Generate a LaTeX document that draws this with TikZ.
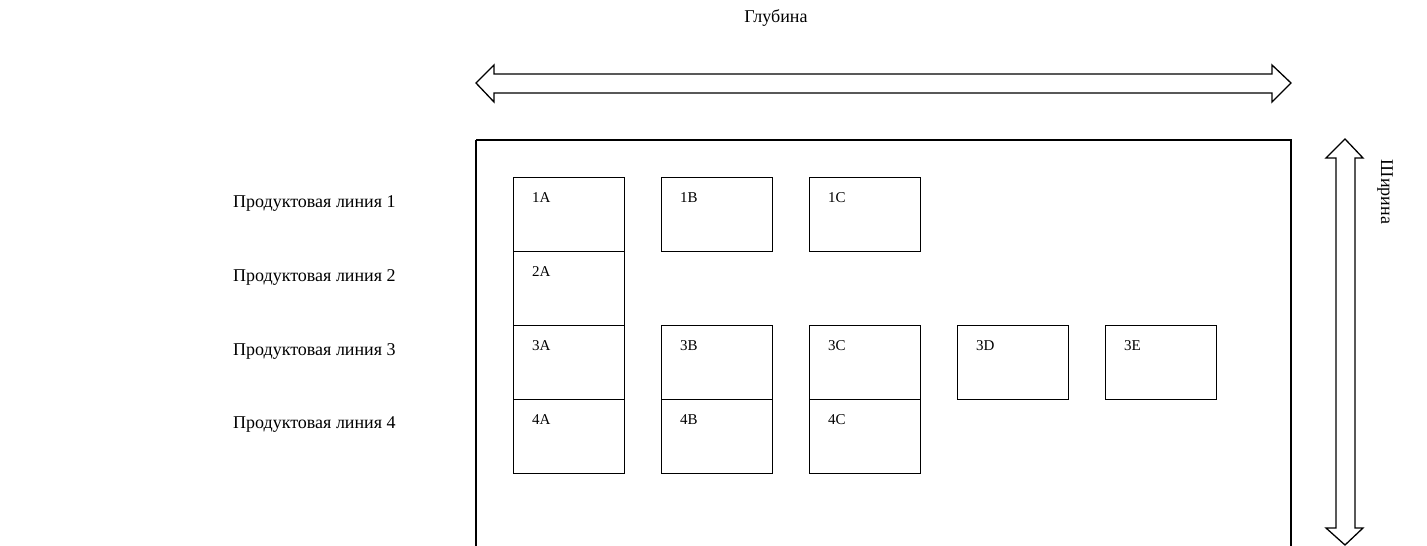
\documentclass[tikz,border=0pt]{standalone}
\usepackage{fontspec}
\setmainfont{Liberation Serif}
\begin{document}
\begin{tikzpicture}[x=1pt,y=-1pt,
  cell/.style={draw,line width=1.4pt,minimum width=111pt,minimum height=74pt,anchor=north west,inner sep=0pt},
  lbl/.style={font=\fontsize{15}{17}\selectfont,anchor=north west,inner sep=0pt},
  side/.style={font=\fontsize{18}{21}\selectfont,anchor=west,inner sep=0pt},
  big/.style={font=\fontsize{18}{21}\selectfont,inner sep=0pt},
  fat/.style={draw,line width=1.3pt,fill=white,line join=miter}]
\useasboundingbox (0,0) rectangle (1427,546);
\begin{scope}
\clip (0,0) rectangle (1427,546);
\draw[line width=1.4pt] (476,140) -- (1291,140) -- (1291,560) (476,140) -- (476,560);
\end{scope}
% cells
\foreach \n/\x/\y in {1A/513/177,2A/513/251,3A/513/325,4A/513/399,
  1B/661/177,3B/661/325,4B/661/399,
  1C/809/177,3C/809/325,4C/809/399,
  3D/957/325,3E/1105/325}{
  \node[cell] (c\n) at (\x,\y) {};
  \node[lbl] (t\n) at ([shift={(19pt,-15pt)}]c\n.north west) {\n};
}
% side labels
\node[side] (p1) at (233,203) {Продуктовая линия 1};
\node[side] (p2) at (233,277) {Продуктовая линия 2};
\node[side] (p3) at (233,351) {Продуктовая линия 3};
\node[side] (p4) at (233,425) {Продуктовая линия 4};
% top label
\node[big] (g) at (776,18) {Глубина};
% horizontal double arrow
\coordinate (hl) at (476,83);
\coordinate (hr) at (1291,83);
\draw[fat] (hl) -- (494,65) -- (494,74) -- (1272,74) -- (1272,65) -- (hr) -- (1272,102) -- (1272,93) -- (494,93) -- (494,102) -- cycle;
% vertical double arrow
\coordinate (vt) at (1345,139);
\coordinate (vb) at (1345,545);
\draw[fat] (vt) -- (1363,158) -- (1355,158) -- (1355,528) -- (1363,528) -- (vb) -- (1326,528) -- (1336,528) -- (1336,158) -- (1326,158) -- cycle;
\node[big,rotate=-90] (w) at (1385,192) {Ширина};
\end{tikzpicture}
\end{document}
